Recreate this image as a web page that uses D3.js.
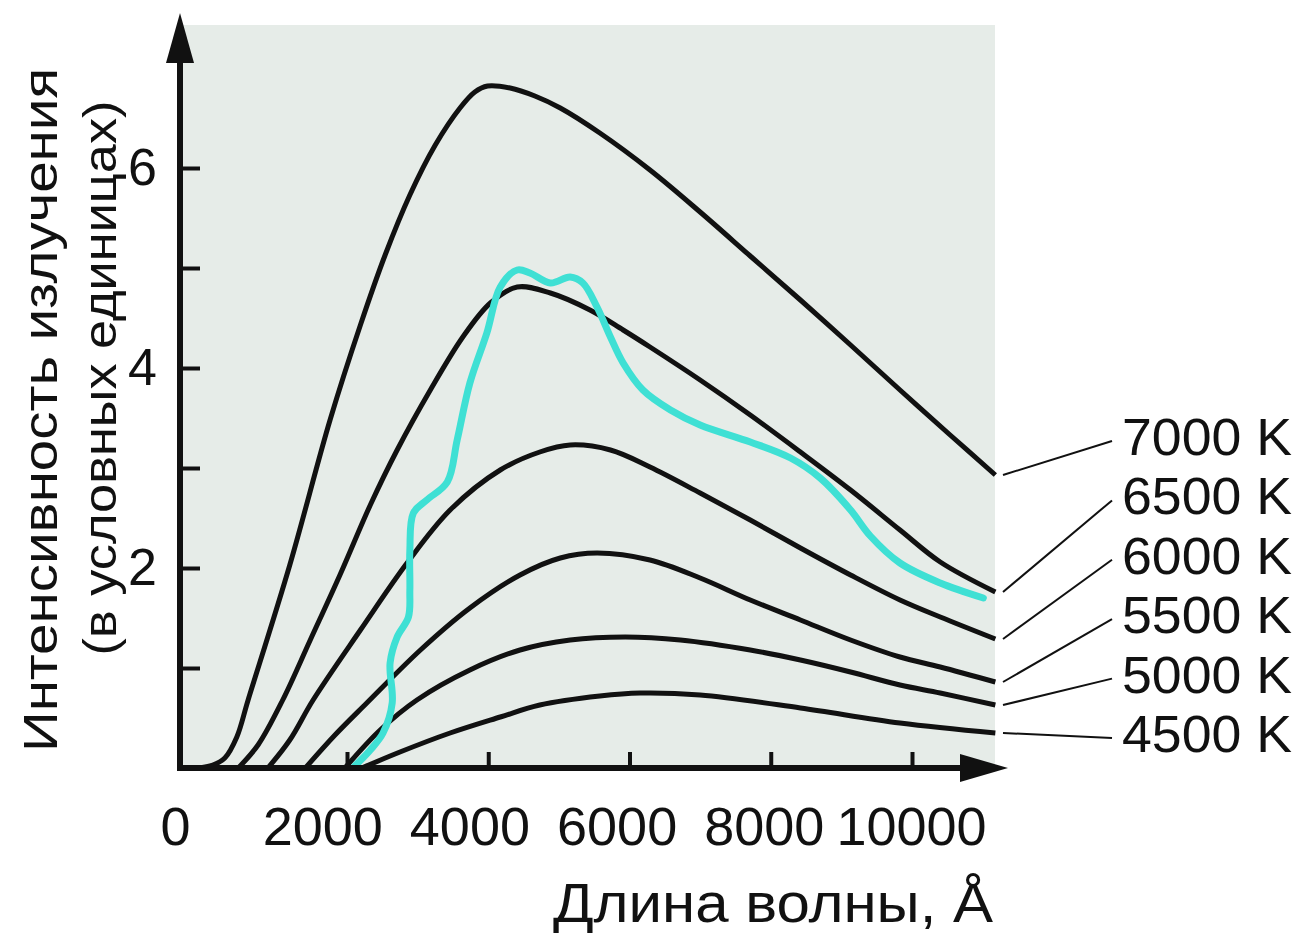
<!DOCTYPE html>
<html>
<head>
<meta charset="utf-8">
<script src="https://cdn.jsdelivr.net/npm/d3@7"></script>
<style>
  body { margin: 0; background: #fff; }
  text { font-family: "Liberation Sans", Arial, sans-serif; fill: #111; }
</style>
</head>
<body>
<div id="chart"></div>
<script>
// wavelength (Å) / intensity pairs
const curve7000 = [[-120,0],[100,0.03],[270,0.10],[440,0.31],[600,0.68],[1190,2.03],[1760,3.48],[2190,4.43],[2540,5.13],[2890,5.73],[3250,6.23],[3600,6.60],[3810,6.76],[3990,6.82],[4310,6.80],[4660,6.72],[5020,6.60],[5580,6.35],[6290,5.98],[7000,5.56],[7710,5.12],[8420,4.68],[9130,4.23],[9830,3.78],[10540,3.33],[11180,2.93]];
const curve6500 = [[460,0],[740,0.23],[1090,0.68],[1480,1.28],[1900,1.93],[2330,2.63],[2710,3.18],[3180,3.78],[3640,4.31],[4030,4.65],[4410,4.81],[4880,4.75],[5440,4.58],[5910,4.38],[6290,4.21],[7000,3.88],[7710,3.53],[8420,3.16],[9130,2.78],[9830,2.38],[10400,2.06],[11180,1.76]];
const curve6000 = [[880,0],[1190,0.28],[1520,0.68],[2190,1.38],[2850,2.05],[3460,2.58],[4170,2.98],[4730,3.16],[5160,3.23],[5730,3.18],[6290,3.01],[7000,2.75],[7710,2.48],[8420,2.20],[9130,1.93],[9830,1.68],[10400,1.51],[11180,1.29]];
const curve5500 = [[1410,0],[1830,0.33],[2280,0.65],[3040,1.18],[3740,1.60],[4450,1.93],[5020,2.10],[5540,2.15],[6290,2.08],[7000,1.90],[7710,1.68],[8420,1.48],[9130,1.28],[9830,1.11],[10400,1.01],[11180,0.86]];
const curve5000 = [[1970,0],[2470,0.38],[2990,0.68],[3740,0.98],[4450,1.18],[5160,1.28],[5940,1.31],[6720,1.28],[7710,1.18],[8420,1.08],[9130,0.96],[9830,0.83],[10400,0.75],[11180,0.63]];
const curve4500 = [[2210,0],[2750,0.16],[3460,0.35],[4170,0.51],[4730,0.63],[5580,0.72],[6150,0.75],[7000,0.73],[8420,0.60],[9830,0.45],[11180,0.35]];
const sunCurve = [[2110,0.02],[2330,0.18],[2510,0.35],[2640,0.65],[2610,1.05],[2710,1.31],[2870,1.51],[2890,1.78],[2890,2.18],[2940,2.55],[3130,2.68],[3420,2.86],[3560,3.28],[3740,3.85],[3980,4.35],[4170,4.81],[4410,4.98],[4590,4.95],[4880,4.85],[5160,4.91],[5340,4.85],[5540,4.61],[5730,4.31],[5910,4.05],[6190,3.78],[6580,3.58],[7000,3.43],[7710,3.26],[8280,3.10],[8700,2.90],[9130,2.58],[9410,2.32],[9830,2.05],[10400,1.85],[11010,1.70]];

const curves = [curve7000, curve6500, curve6000, curve5500, curve5000, curve4500];
const tempLabels = ["7000 K", "6500 K", "6000 K", "5500 K", "5000 K", "4500 K"];
const xTickValues = [2000, 4000, 6000, 8000, 10000];
const xTickLabels = [0, 2000, 4000, 6000, 8000, 10000];
const yTickValues = [1, 2, 3, 4, 5, 6];
const yTickLabels = [2, 4, 6];

const width = 1313, height = 933;
const plot = {left: 180, right: 995, top: 25, bottom: 768};

const svg = d3.select("#chart").append("svg")
    .attr("width", width)
    .attr("height", height);

const x = d3.scaleLinear().domain([2000, 10000]).range([347, 912]);
const xLabel = d3.scaleLinear().domain([0, 10000]).range([175, 911]);
const y = d3.scaleLinear().domain([0, 6]).range([plot.bottom, 168]);

// plot background
svg.append("rect")
    .attr("x", plot.left + 3)
    .attr("y", plot.top)
    .attr("width", plot.right - plot.left - 3)
    .attr("height", plot.bottom - plot.top)
    .attr("fill", "#e6ece8");

const line = d3.line()
    .x(d => x(d[0]))
    .y(d => y(d[1]))
    .curve(d3.curveCatmullRom.alpha(0.5));

svg.selectAll(".temp")
    .data(curves)
    .enter()
    .append("path")
    .attr("class", "temp")
    .attr("d", line)
    .attr("fill", "none")
    .attr("stroke", "#111")
    .attr("stroke-width", 5);

svg.append("path")
    .datum(sunCurve)
    .attr("d", line)
    .attr("fill", "none")
    .attr("stroke", "#3fe0d4")
    .attr("stroke-width", 7)
    .attr("stroke-linecap", "round")
    .attr("stroke-linejoin", "round");

// x axis ticks (pointing up)
const xAxis = svg.append("g")
    .attr("transform", `translate(0,${plot.bottom})`)
    .call(d3.axisBottom(x).tickValues(xTickValues).tickSize(-16).tickFormat(""));
xAxis.select(".domain").remove();
xAxis.selectAll("line").attr("stroke", "#111").attr("stroke-width", 4);

const xLabels = svg.append("g")
    .attr("transform", `translate(0,${plot.bottom})`)
    .call(d3.axisBottom(xLabel).tickValues(xTickLabels).tickSize(0).tickPadding(39).tickFormat(d3.format("d")));
xLabels.select(".domain").remove();
xLabels.selectAll("text").attr("font-size", 54).attr("font-family", null);

// y axis ticks (pointing right)
const yAxis = svg.append("g")
    .attr("transform", `translate(${plot.left},0)`)
    .call(d3.axisLeft(y).tickValues(yTickValues).tickSize(-20).tickPadding(23)
        .tickFormat(d => yTickLabels.includes(d) ? d : ""));
yAxis.select(".domain").remove();
yAxis.selectAll("line").attr("stroke", "#111").attr("stroke-width", 4);
yAxis.selectAll("text").attr("font-size", 52).attr("font-family", null);

// axis lines with arrows
svg.append("line")
    .attr("x1", plot.left).attr("x2", 965)
    .attr("y1", plot.bottom).attr("y2", plot.bottom)
    .attr("stroke", "#111").attr("stroke-width", 6);
svg.append("line")
    .attr("x1", plot.left).attr("x2", plot.left)
    .attr("y1", plot.bottom + 3).attr("y2", 58)
    .attr("stroke", "#111").attr("stroke-width", 6);
svg.append("path")
    .attr("d", `M1008,${plot.bottom} L960,${plot.bottom - 14} L960,${plot.bottom + 14} Z`)
    .attr("fill", "#111");
svg.append("path")
    .attr("d", `M${plot.left},13 L${plot.left - 14},63 L${plot.left + 14},63 Z`)
    .attr("fill", "#111");

// temperature labels with leader lines
const labelX = 1122, labelTop = 455, labelStep = 59.4;
tempLabels.forEach((t, i) => {
    const last = curves[i][curves[i].length - 1];
    const ly = labelTop + i * labelStep;
    svg.append("line")
        .attr("x1", 1003).attr("y1", y(last[1]))
        .attr("x2", 1112).attr("y2", ly - 14)
        .attr("stroke", "#111").attr("stroke-width", 2);
    svg.append("text")
        .attr("x", labelX).attr("y", ly)
        .attr("font-size", 52)
        .attr("textLength", 170)
        .attr("lengthAdjust", "spacingAndGlyphs")
        .text(t);
});

// axis titles
svg.append("text")
    .attr("transform", "translate(57,410) rotate(-90)")
    .attr("text-anchor", "middle")
    .attr("font-size", 48)
    .attr("textLength", 684)
    .attr("lengthAdjust", "spacingAndGlyphs")
    .text("Интенсивность излучения");
svg.append("text")
    .attr("transform", "translate(116,378) rotate(-90)")
    .attr("text-anchor", "middle")
    .attr("font-size", 46)
    .attr("textLength", 555)
    .attr("lengthAdjust", "spacingAndGlyphs")
    .text("(в условных единицах)");
svg.append("text")
    .attr("x", 993).attr("y", 922)
    .attr("text-anchor", "end")
    .attr("font-size", 56)
    .attr("textLength", 440)
    .attr("lengthAdjust", "spacingAndGlyphs")
    .text("Длина волны, Å");
</script>
</body>
</html>
